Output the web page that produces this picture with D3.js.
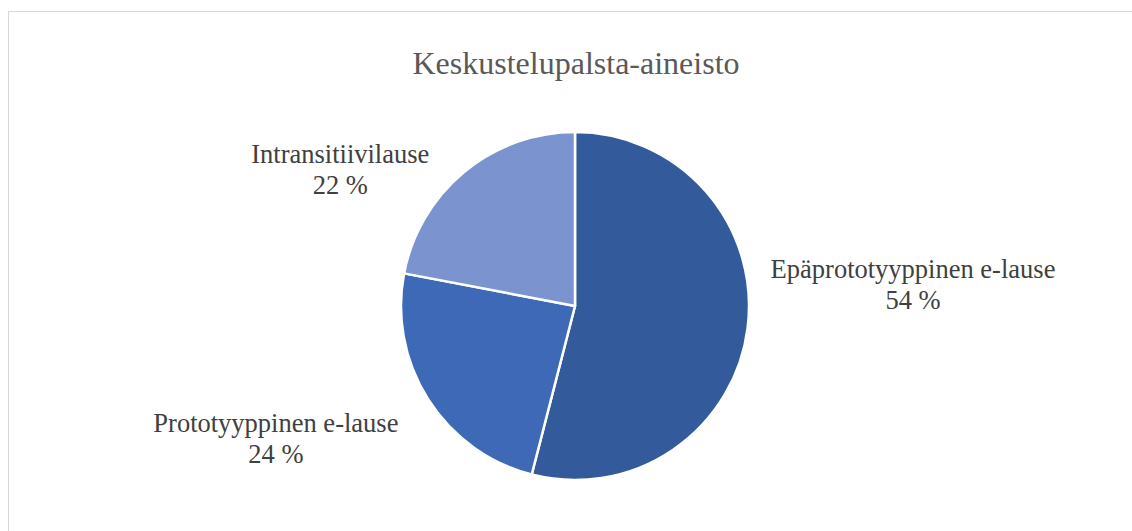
<!DOCTYPE html>
<html>
<head>
<meta charset="utf-8">
<script src="https://cdn.jsdelivr.net/npm/d3@7"></script>
<style>
    html, body { margin: 0; padding: 0; background: #fff; }
    svg { display: block; }
</style>
</head>
<body>
<div id="chart"></div>
<script>
// Chart data
const title = 'Keskustelupalsta-aineisto';
const categories = ['Epäprototyyppinen e-lause', 'Prototyyppinen e-lause', 'Intransitiivilause'];
const values = [54, 24, 22];
const colors = ['#335a9a', '#3d69b6', '#7b94cf'];

const width = 1132;
const height = 531;

// Pie geometry
const cx = 575;
const cy = 306;
const radius = 174;

// Label placement: distance along the slice centre angle, plus a small nudge
const labelRadius = 1.9;
const labelNudge = [[10, -59], [-20, -41], [-24, 122]];

const svg = d3.select('#chart')
    .append('svg')
    .attr('width', width)
    .attr('height', height);

// Chart area border (only left and top are in frame)
svg.append('rect')
    .attr('x', 8.5)
    .attr('y', 11.5)
    .attr('width', width + 20)
    .attr('height', height + 20)
    .attr('fill', '#fff')
    .attr('stroke', '#d9d9d9')
    .attr('stroke-width', 1);

svg.append('text')
    .attr('x', cx + 1)
    .attr('y', 74)
    .attr('text-anchor', 'middle')
    .attr('font-family', '"Liberation Serif", "Times New Roman", serif')
    .attr('font-size', 32)
    .attr('fill', '#595959')
    .text(title);

const data = categories.map((name, i) => ({ name, value: values[i], color: colors[i], index: i }));

const pie = d3.pie()
    .value(d => d.value)
    .sort(null);

const arcs = pie(data);

const arc = d3.arc()
    .innerRadius(0)
    .outerRadius(radius);

const g = svg.append('g')
    .attr('transform', `translate(${cx},${cy})`);

g.selectAll('path')
    .data(arcs)
    .join('path')
    .attr('d', arc)
    .attr('fill', d => d.data.color)
    .attr('stroke', '#fff')
    .attr('stroke-width', 2.5)
    .attr('stroke-linejoin', 'round');

const labelArc = d3.arc()
    .innerRadius(radius * labelRadius)
    .outerRadius(radius * labelRadius);

const labels = g.selectAll('text.label')
    .data(arcs)
    .join('text')
    .attr('class', 'label')
    .attr('text-anchor', 'middle')
    .attr('font-family', '"Liberation Serif", "Times New Roman", serif')
    .attr('font-size', 26.5)
    .attr('fill', '#404040')
    .attr('transform', d => {
        const [x, y] = labelArc.centroid(d);
        const [nx, ny] = labelNudge[d.data.index];
        return `translate(${x + nx},${y + ny})`;
    });

labels.append('tspan')
    .attr('x', 0)
    .attr('y', -10)
    .text(d => d.data.name);

labels.append('tspan')
    .attr('x', 0)
    .attr('y', 20.5)
    .text(d => `${d.data.value} %`);
</script>
</body>
</html>
